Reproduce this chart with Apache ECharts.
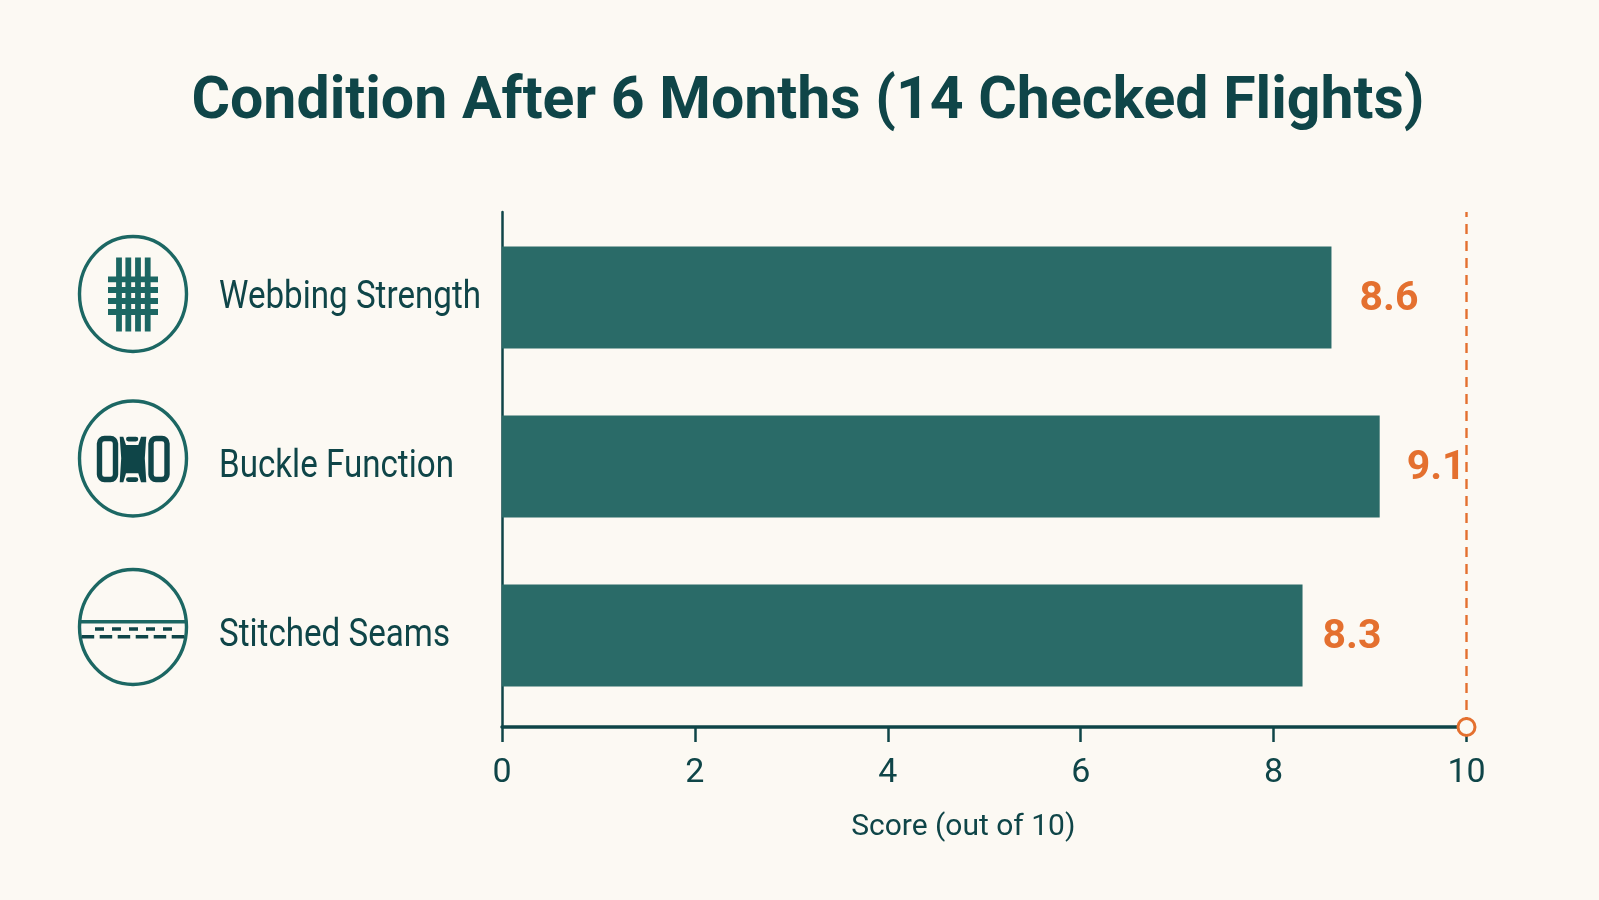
<!DOCTYPE html>
<html>
<head>
<meta charset="utf-8">
<title>Condition After 6 Months</title>
<style>html,body{margin:0;padding:0;background:#fcf9f3}#chart{width:1599px;height:900px}</style>
<script src="https://cdn.jsdelivr.net/npm/echarts@6/dist/echarts.min.js"></script>
</head>
<body>
<div id="chart"></div>
<script>
const categories = ['Webbing Strength', 'Buckle Function', 'Stitched Seams'];
const scores = [8.6, 9.1, 8.3];
const maxScore = 10;
const tickStep = 2;
const chartTitle = 'Condition After 6 Months (14 Checked Flights)';
const axisTitle = 'Score (out of 10)';
const labelGaps = [28, 27, 20];

const BG = '#fcf9f3', TEAL = '#2a6b68', INK = '#0f4548', ICON = '#1c6763', ORANGE = '#e4702f';
const FACE = 'Roboto, "Liberation Sans", sans-serif';

const chart = echarts.init(document.getElementById('chart'), null, { renderer: 'canvas' });

function ring(cx, cy) {
  return { type: 'ellipse', shape: { cx, cy, rx: 53.5, ry: 57.5 }, style: { fill: 'none', stroke: ICON, lineWidth: 3.4 } };
}
function box(x, y, width, height, fill) {
  return { type: 'rect', shape: { x, y, width, height }, style: { fill } };
}
function rule(x1, y1, x2, y2, lineWidth, lineDash, stroke) {
  return { type: 'line', shape: { x1, y1, x2, y2 }, style: { stroke: stroke || ICON, lineWidth, lineDash } };
}

// Woven webbing: four warp and four weft strips
const webbing = [ring(133, 294)];
[119, 128.3, 138, 147.7].forEach(x => webbing.push(box(x - 2.9, 257.5, 5.8, 74, ICON)));
[279.3, 290, 301, 312].forEach(y => webbing.push(box(108, y - 2.9, 50, 5.8, ICON)));

// Side-release buckle: two frames and the central latch
const buckle = [
  ring(133, 458.5),
  { type: 'rect', shape: { x: 99.5, y: 438.5, width: 16, height: 41, r: 5 }, style: { fill: 'none', stroke: INK, lineWidth: 5.4 } },
  { type: 'rect', shape: { x: 151, y: 438.5, width: 16, height: 41, r: 5 }, style: { fill: 'none', stroke: INK, lineWidth: 5.4 } },
  { type: 'polygon', shape: { points: [[119.7, 436.7], [123.3, 436.7], [126, 445], [138.3, 445], [141, 436.7], [146.3, 436.7], [144.8, 458.3], [146.3, 482.3], [141, 482.3], [138.3, 473.3], [126, 473.3], [123.3, 482.3], [119.7, 482.3], [121.2, 458.3]] }, style: { fill: INK } },
  { type: 'rect', shape: { x: 126, y: 436.7, width: 12.3, height: 4.8, r: 2.4 }, style: { fill: INK } },
  { type: 'rect', shape: { x: 126, y: 477.2, width: 12.3, height: 4.8, r: 2.4 }, style: { fill: INK } }
];

// Two fabric edges joined by rows of stitches
const seam = [
  ring(133, 627),
  rule(80, 621.7, 186, 621.7, 3.4),
  rule(95, 629, 172, 629, 3.4, [9, 8], INK),
  rule(81.7, 636.7, 187, 636.7, 3.6, [12.5, 5.5], INK)
];

chart.setOption({
  animation: false,
  backgroundColor: BG,
  title: {
    text: chartTitle,
    left: 803,
    top: 69,
    textAlign: 'center',
    textStyle: { fontFamily: FACE, fontWeight: 'bold', fontSize: 59, color: INK }
  },
  grid: [
    { left: 502, right: 132.5, top: 212, bottom: 173 },
    { left: 502, right: 132.5, top: 213, height: 507 }
  ],
  xAxis: [
    {
      gridIndex: 0, type: 'value', min: 0, max: maxScore, interval: tickStep,
      name: axisTitle, nameLocation: 'middle', nameGap: 85,
      nameTextStyle: { fontFamily: FACE, fontSize: 30, color: INK, padding: [0, 42, 0, 0] },
      axisLine: { show: true, onZero: false, lineStyle: { color: INK, width: 3.5 } },
      axisTick: { show: true, length: 15, lineStyle: { color: INK, width: 2.5 } },
      axisLabel: { fontFamily: FACE, fontSize: 34, color: INK, margin: 29 },
      splitLine: { show: false }
    },
    { gridIndex: 1, type: 'value', min: 0, max: maxScore, show: false }
  ],
  yAxis: [
    {
      gridIndex: 0, type: 'value', min: 0, max: 1,
      axisLine: { show: true, onZero: false, lineStyle: { color: INK, width: 2.5 } },
      axisTick: { show: false }, axisLabel: { show: false }, splitLine: { show: false }
    },
    {
      gridIndex: 1, type: 'category', inverse: true, data: categories,
      axisLine: { show: false }, axisTick: { show: false }, axisLabel: { show: false }
    }
  ],
  series: [
    {
      type: 'bar', xAxisIndex: 1, yAxisIndex: 1, barWidth: 102,
      data: scores.map((value, i) => ({
        value,
        label: { show: true, position: 'right', distance: labelGaps[i], offset: [0, 2], formatter: '{c}' }
      })),
      itemStyle: { color: TEAL },
      label: { fontFamily: FACE, fontWeight: 'bold', fontSize: 41, color: ORANGE }
    },
    {
      type: 'line', xAxisIndex: 0, yAxisIndex: 0, showSymbol: false, silent: true, z: 3,
      data: [[maxScore, 0], [maxScore, 1]],
      lineStyle: { color: ORANGE, width: 2.4, type: [10, 7] }
    },
    {
      type: 'scatter', xAxisIndex: 0, yAxisIndex: 0, silent: true, z: 4,
      data: [[maxScore, 0]], symbol: 'circle', symbolSize: 17,
      itemStyle: { color: BG, opacity: 1, borderColor: ORANGE, borderWidth: 3 }
    }
  ]
});

// Category names sit beside their icons in a tall, condensed setting
const categoryLabels = categories.map(name => ({
  type: 'text',
  x: 219,
  y: chart.convertToPixel({ yAxisIndex: 1 }, name) + 0.5,
  scaleX: 0.85,
  style: { text: name, fontFamily: FACE, fontSize: 39, fill: INK, align: 'left', verticalAlign: 'middle' }
}));

chart.setOption({
  graphic: { elements: [
    { type: 'group', children: webbing },
    { type: 'group', children: buckle },
    { type: 'group', children: seam },
    { type: 'group', children: categoryLabels }
  ] }
});
</script>
</body>
</html>
